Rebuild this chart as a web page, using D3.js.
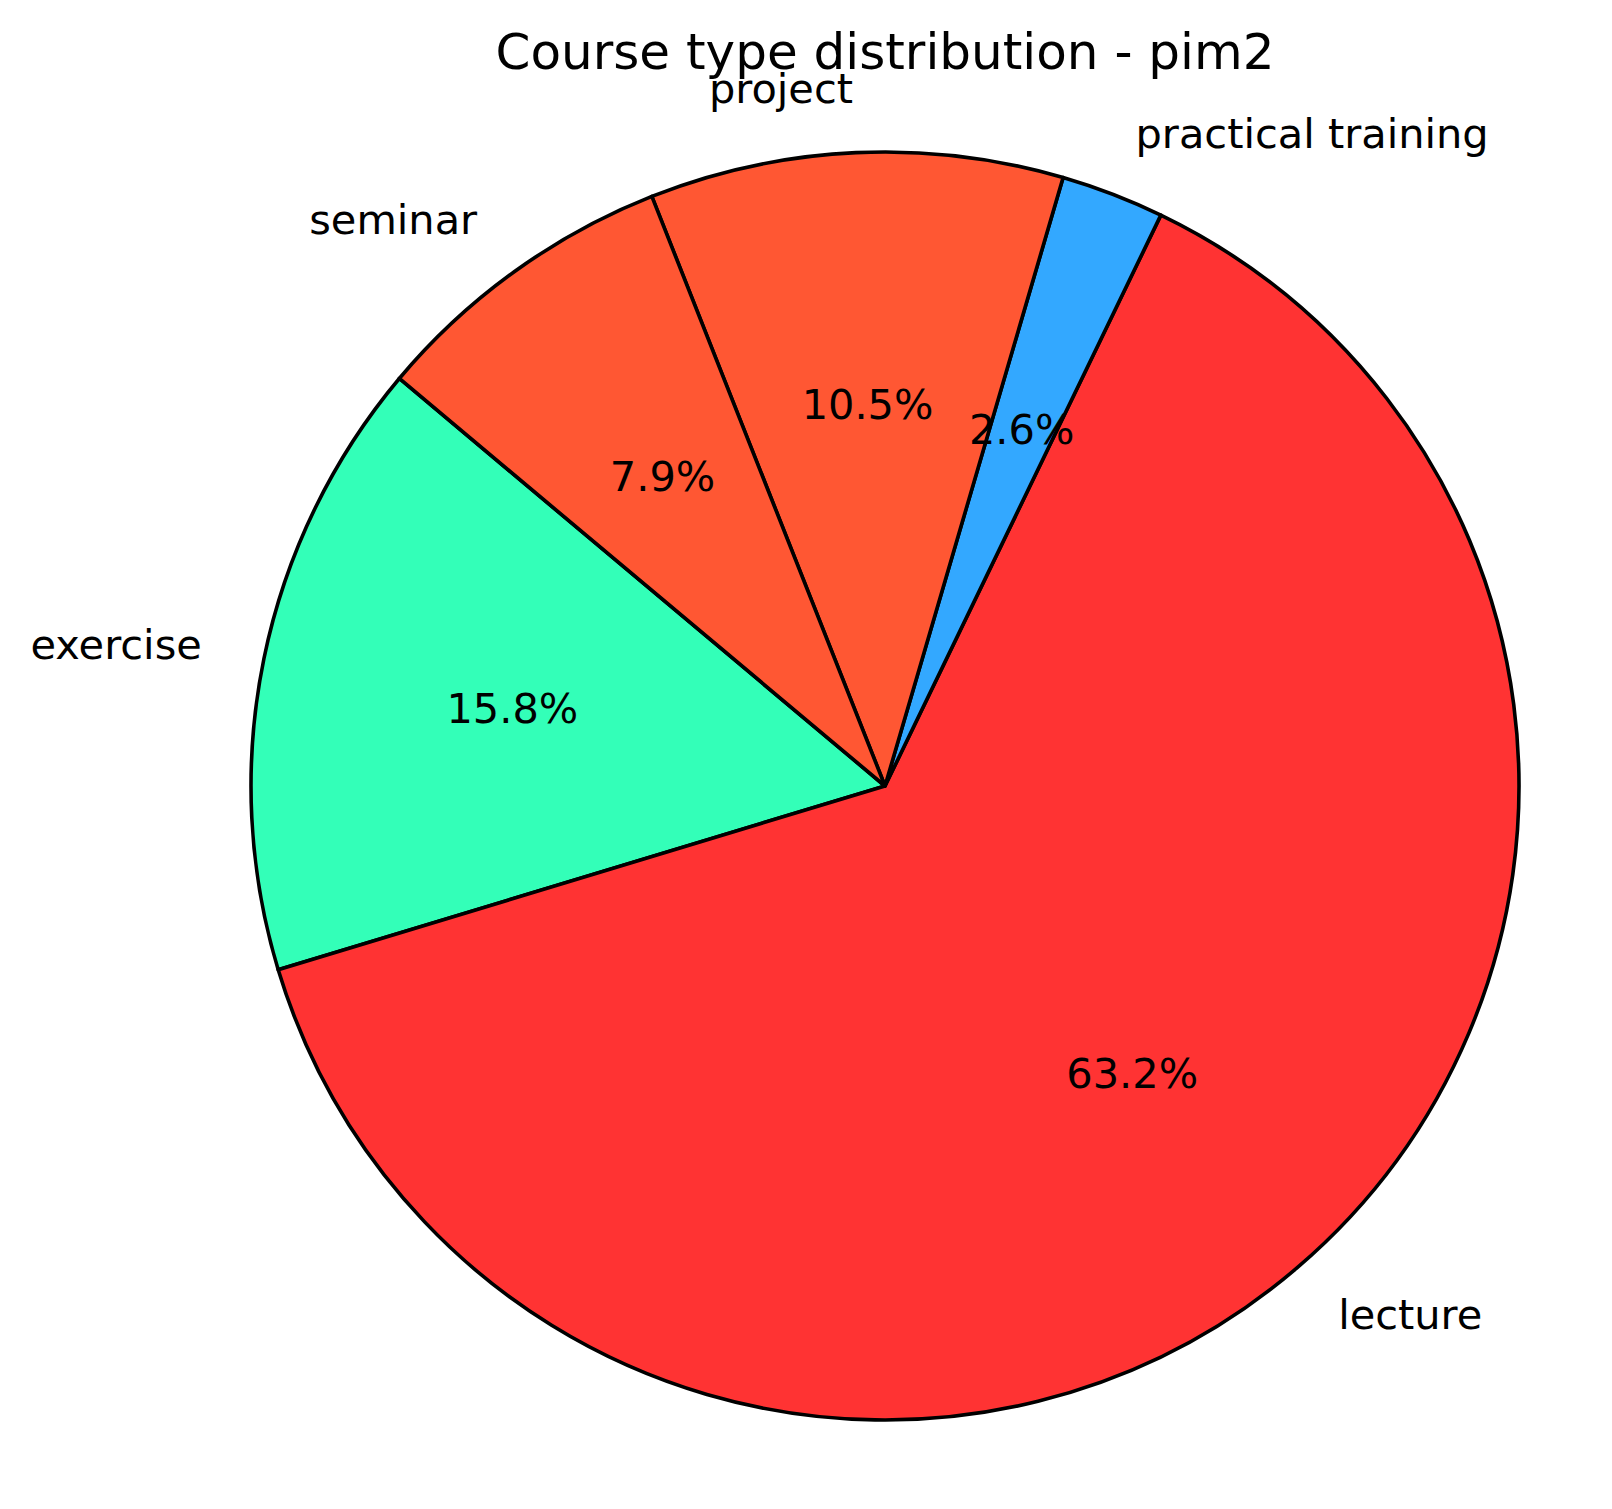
<!DOCTYPE html>
<html>
<head>
<meta charset="utf-8">
<script src="https://cdn.jsdelivr.net/npm/d3@7"></script>
<style>
  html, body { margin: 0; padding: 0; background: #fff; }
  text { font-family: "DejaVu Sans", sans-serif; fill: #000; }
</style>
</head>
<body>
<div id="container" style="width:1612px;height:1509px;"></div>
<script>
// course types, counts and colours (alphabetical, as drawn)
var categories = ["exercise", "lecture", "practical training", "project", "seminar"];
var counts = [6, 24, 1, 4, 3];
var sliceColors = ["#33FFB8", "#FF3333", "#33A8FF", "#FF5733", "#FF5733"];
var title = "Course type distribution - pim2";

var width = 1612,
    height = 1509,
    cx = 885,
    cy = 786,
    radius = 634;

var svg = d3.select("div#container")
    .append("svg")
    .attr("width", width)
    .attr("height", height);

var total = d3.sum(counts);
var rad = Math.PI / 180;

// start at 140 deg (math convention), going counterclockwise
var start = (90 - 140) * rad;
var pie = d3.pie()
    .sort(null)
    .startAngle(start)
    .endAngle(start - 2 * Math.PI);

var arcs = pie(counts);

var arc = d3.arc()
    .innerRadius(0)
    .outerRadius(radius);

var color = d3.scaleOrdinal()
    .domain(categories)
    .range(sliceColors);

var g = svg.append("g")
    .attr("transform", "translate(" + cx + "," + cy + ")");

g.selectAll("path")
    .data(arcs)
    .enter().append("path")
    .attr("d", arc)
    .attr("fill", function(d, i) { return color(categories[i]); })
    .attr("stroke", "#000")
    .attr("stroke-width", 3.6)
    .attr("stroke-linejoin", "round");

function pos(d, k) {
    var a = (d.startAngle + d.endAngle) / 2;
    return [Math.sin(a) * radius * k, -Math.cos(a) * radius * k];
}

// category labels at 1.1 r
g.selectAll("text.label")
    .data(arcs)
    .enter().append("text")
    .attr("class", "label")
    .attr("x", function(d) { return pos(d, 1.1)[0]; })
    .attr("y", function(d) { return pos(d, 1.1)[1]; })
    .attr("dy", "0.32em")
    .attr("text-anchor", function(d) { return pos(d, 1.1)[0] > 0 ? "start" : "end"; })
    .style("font-size", "41.5px")
    .text(function(d, i) { return categories[i]; });

// percentages at 0.6 r
var fmt = d3.format(".1f");
g.selectAll("text.pct")
    .data(arcs)
    .enter().append("text")
    .attr("class", "pct")
    .attr("x", function(d) { return pos(d, 0.6)[0]; })
    .attr("y", function(d) { return pos(d, 0.6)[1]; })
    .attr("dy", "0.32em")
    .attr("text-anchor", "middle")
    .style("font-size", "41.5px")
    .text(function(d) { return fmt(d.value / total * 100) + "%"; });

svg.append("text")
    .attr("x", cx)
    .attr("y", 69)
    .attr("text-anchor", "middle")
    .style("font-size", "50px")
    .text(title);
</script>
</body>
</html>
